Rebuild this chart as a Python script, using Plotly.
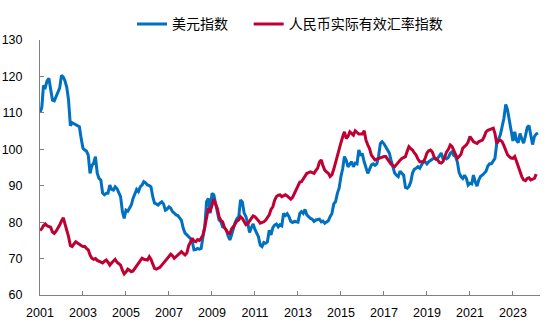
import plotly.graph_objects as go
import pandas as pd

usd_index = [
    # 2001
    110.0, 111.5, 117.5, 117.0, 118.8, 119.5, 116.5, 113.5, 113.3, 114.5, 116.0, 116.8,
    # 2002
    120.3, 119.8, 118.8, 117.0, 113.5, 106.5, 107.3, 107.0, 106.8, 106.5, 106.2, 103.0,
    # 2003
    100.3, 99.8, 99.5, 98.4, 93.4, 95.5, 96.2, 98.0, 93.4, 92.0, 91.5, 88.0,
    # 2004
    87.5, 87.9, 87.9, 90.2, 89.0, 88.8, 89.7, 89.2, 88.0, 87.0, 82.9, 81.0,
    # 2005
    83.3, 83.0, 83.8, 84.7, 86.5, 87.9, 89.0, 88.4, 89.7, 90.2, 91.1, 90.8,
    # 2006
    90.2, 90.0, 89.7, 87.0, 85.2, 85.0, 84.7, 85.2, 85.6, 85.0, 83.3, 83.6,
    # 2007
    84.2, 83.8, 82.9, 82.5, 82.0, 81.8, 81.0, 80.5, 78.3, 77.0, 76.5, 76.0,
    # 2008
    75.5, 74.6, 72.4, 72.5, 72.8, 72.6, 72.8, 76.0, 78.7, 85.6, 86.5, 82.4,
    # 2009
    87.9, 87.5, 85.0, 83.3, 80.6, 80.1, 78.7, 78.5, 77.8, 76.3, 75.1, 76.5,
    # 2010
    78.5, 80.0, 81.0, 81.5, 86.1, 85.5, 82.5, 81.5, 79.7, 77.2, 78.5, 79.5,
    # 2011
    78.0, 76.9, 76.0, 73.7, 73.3, 74.4, 74.2, 74.6, 77.8, 76.5, 78.5, 79.2,
    # 2012
    79.5, 78.7, 79.3, 79.0, 82.4, 81.8, 82.3, 81.5, 80.2, 79.9, 80.2, 80.1,
    # 2013
    80.0, 82.4, 82.9, 82.4, 83.5, 82.0, 81.5, 81.0, 80.8, 80.2, 80.6, 80.6,
    # 2014
    80.8, 80.1, 80.3, 79.7, 80.0, 80.4, 81.5, 82.4, 85.0, 85.6, 87.9, 89.3,
    # 2015
    92.5, 94.8, 98.0, 97.0, 95.2, 96.0, 96.6, 95.2, 96.2, 96.0, 99.8, 98.5,
    # 2016
    98.6, 96.5, 95.2, 93.4, 94.5, 95.7, 96.0, 95.6, 96.0, 98.0, 101.6, 102.1,
    # 2017
    101.5, 100.5, 99.8, 99.0, 97.0, 95.2, 93.5, 92.9, 92.5, 94.0, 93.5, 92.9,
    # 2018
    89.5, 89.3, 89.8, 91.0, 93.5, 94.5, 94.8, 95.2, 94.8, 95.8, 96.6, 96.6,
    # 2019
    96.0, 96.6, 96.9, 97.3, 97.6, 97.3, 97.5, 98.2, 99.0, 97.4, 97.8, 97.4,
    # 2020
    97.8, 98.9, 99.3, 98.3, 98.0, 96.5, 93.6, 92.5, 92.0, 92.9, 92.0, 90.2,
    # 2021
    90.7, 90.5, 92.9, 91.1, 89.9, 91.6, 92.6, 92.9, 93.5, 94.0, 95.4, 96.0,
    # 2022
    96.0, 96.8, 97.5, 101.6, 103.0, 104.0, 106.2, 108.5, 112.3, 110.9, 108.0, 104.8,
    # 2023
    102.3, 104.8, 102.5, 101.8, 104.3, 102.9, 101.7, 103.6, 106.0, 106.5, 104.0, 101.3,
    # 2024
    103.5, 104.2, 104.5,
]

cny_reer = [
    # 2001
    77.7, 78.2, 79.0, 79.5, 79.0, 78.8, 78.6, 77.3, 76.9, 77.5, 78.3, 79.2,
    # 2002
    80.3, 81.2, 79.5, 77.8, 76.0, 73.6, 73.3, 74.0, 74.6, 74.3, 73.8, 73.6,
    # 2003
    73.3, 73.3, 72.8, 72.4, 71.0, 70.1, 69.8, 70.0, 69.5, 69.2, 69.0, 68.8,
    # 2004
    69.3, 69.6, 69.0, 68.2, 68.8, 69.3, 69.8, 69.0, 68.7, 68.2, 66.8, 65.8,
    # 2005
    66.3, 67.1, 66.8, 66.4, 66.6, 67.3, 67.8, 68.5, 69.2, 70.1, 69.8, 69.6,
    # 2006
    69.6, 70.5, 69.8, 68.5, 67.3, 67.1, 67.4, 67.6, 68.2, 68.8, 69.2, 69.8,
    # 2007
    70.6, 71.2, 70.8, 70.1, 70.5, 71.0, 71.6, 71.9, 71.4, 71.0, 71.5, 73.5,
    # 2008
    74.5, 75.6, 74.8, 74.6, 75.2, 75.0, 75.6, 76.5, 78.7, 81.5, 83.8, 82.9,
    # 2009
    84.5, 86.3, 85.0, 83.8, 81.5, 80.5, 80.1, 78.5, 77.8, 77.0, 76.9, 78.2,
    # 2010
    78.8, 79.5, 80.3, 80.6, 81.5, 81.0, 80.2, 79.3, 79.6, 80.3, 81.2, 81.7,
    # 2011
    81.5, 81.0, 80.4, 79.7, 79.8, 80.1, 80.5, 81.3, 82.0, 83.5, 84.2, 86.0,
    # 2012
    87.0, 87.4, 87.5, 87.0, 87.3, 87.5, 87.2, 86.8, 86.3, 86.8, 87.9, 88.8,
    # 2013
    90.2, 91.0, 91.1, 92.0, 92.5, 93.4, 93.6, 93.8, 93.6, 93.4, 94.2, 94.8,
    # 2014
    96.5, 97.1, 95.5, 94.3, 93.8, 93.4, 92.5, 93.0, 94.5, 96.5, 98.6, 100.5,
    # 2015
    101.8, 103.5, 104.8, 103.0, 103.5, 104.8, 104.3, 103.9, 105.1, 104.5, 104.2, 104.2,
    # 2016
    104.2, 105.1, 102.5, 101.2, 100.2, 98.4, 97.6, 97.1, 97.3, 97.5, 97.8, 98.0,
    # 2017
    98.0, 98.0, 97.2, 96.6, 95.9, 95.5, 95.2, 95.8, 96.6, 97.0, 97.5, 97.8,
    # 2018
    98.0, 99.5, 100.7, 100.2, 99.8, 99.0, 98.4, 97.3, 96.6, 96.6, 96.6, 97.5,
    # 2019
    99.0, 99.6, 99.8, 99.3, 98.0, 97.3, 97.1, 96.4, 96.2, 96.6, 98.0, 99.3,
    # 2020
    100.0, 101.2, 100.8, 99.8, 98.5, 97.5, 98.0, 98.6, 100.3, 100.8, 101.2, 102.0,
    # 2021
    103.5, 102.8, 102.1, 101.8, 101.6, 102.1, 102.3, 102.5, 103.5, 104.8, 105.2, 105.5,
    # 2022
    105.6, 105.8, 104.4, 101.6, 102.3, 102.5, 102.1, 101.0, 99.8, 98.5, 98.0, 97.6,
    # 2023
    97.5, 98.0, 96.8, 95.2, 93.8, 92.5, 91.6, 91.4, 92.0, 92.2, 91.6, 91.8,
    # 2024
    92.0, 93.2,
]

usd_dates = pd.date_range("2001-01-01", periods=len(usd_index), freq="MS")
cny_dates = pd.date_range("2001-01-01", periods=len(cny_reer), freq="MS")

series_names = ["美元指数\u00a0\u00a0\u00a0\u00a0\u00a0", "人民币实际有效汇率指数"]
year_ticks = [f"{y}-01-01" for y in range(2001, 2024, 2)]
year_labels = [str(y) for y in range(2001, 2024, 2)]

fig = go.Figure()
fig.add_trace(go.Scatter(x=usd_dates, y=usd_index, mode="lines", name=series_names[0],
                         line=dict(color="#0070C0", width=3)))
fig.add_trace(go.Scatter(x=cny_dates, y=cny_reer, mode="lines", name=series_names[1],
                         line=dict(color="#C00033", width=3)))

axis_font = dict(family="Liberation Sans, Arial, sans-serif", size=12.5, color="#000000")

fig.update_layout(
    width=550, height=325,
    margin=dict(l=40, r=10, t=40, b=30, autoexpand=False),
    paper_bgcolor="white", plot_bgcolor="white",
    showlegend=True,
    legend=dict(orientation="h", x=0.5, xanchor="center", y=0.925, yanchor="middle",
                yref="container",
                font=dict(family="Noto Sans CJK SC, sans-serif", size=14, color="#000000"),
                itemwidth=30, tracegroupgap=0, bgcolor="rgba(0,0,0,0)"),
    xaxis=dict(range=["2001-01-01", "2024-04-05"], tickvals=year_ticks, ticktext=year_labels,
               showgrid=False, zeroline=False, showline=True, linecolor="#808080", linewidth=1,
               ticks="inside", ticklen=4, tickcolor="#808080", tickfont=axis_font,
               ticklabelstandoff=6),
    yaxis=dict(range=[60, 130], dtick=10, tick0=60, showgrid=False, zeroline=False,
               showline=True, linecolor="#808080", linewidth=1,
               ticks="inside", ticklen=4, tickcolor="#808080", tickfont=axis_font,
               ticklabelstandoff=14),
)

fig.write_html("out.html")
